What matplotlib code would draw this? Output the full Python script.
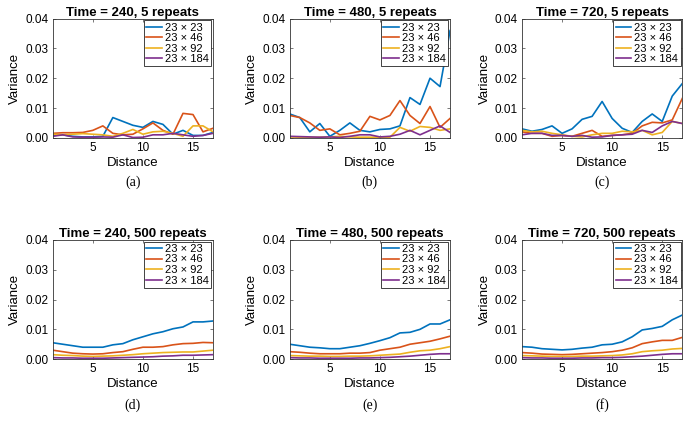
import numpy as np
import matplotlib
matplotlib.use('Agg')
import matplotlib.pyplot as plt

plt.rcParams['font.family'] = ['Liberation Sans', 'DejaVu Sans']

distance = np.arange(1, 18)
sizes = ['23 × 23', '23 × 46', '23 × 92', '23 × 184']
colors = ['#0072BD', '#D95319', '#EDB120', '#7E2F8E']

titles = ['Time = 240, 5 repeats', 'Time = 480, 5 repeats', 'Time = 720, 5 repeats',
          'Time = 240, 500 repeats', 'Time = 480, 500 repeats', 'Time = 720, 500 repeats']
letters = ['(a)', '(b)', '(c)', '(d)', '(e)', '(f)']

# (a) time 240, 5 repeats
a_23 = [0.0008, 0.0010, 0.0005, 0.0003, 0.0003, 0.0005, 0.0068, 0.0055, 0.0042, 0.0035, 0.0055, 0.0045, 0.0012, 0.0025, 0.0008, 0.0008, 0.0018]
a_46 = [0.0015, 0.0017, 0.0017, 0.0018, 0.0025, 0.0040, 0.0015, 0.0010, 0.0012, 0.0030, 0.0050, 0.0025, 0.0012, 0.0082, 0.0078, 0.0020, 0.0032]
a_92 = [0.0012, 0.0010, 0.0012, 0.0014, 0.0012, 0.0010, 0.0005, 0.0015, 0.0028, 0.0012, 0.0020, 0.0022, 0.0015, 0.0005, 0.0040, 0.0040, 0.0020]
a_184 = [0.0005, 0.0010, 0.0003, 0.0002, 0.0002, 0.0003, 0.0002, 0.0010, 0.0001, 0.0002, 0.0010, 0.0010, 0.0015, 0.0010, 0.0005, 0.0008, 0.0015]

# (b) time 480, 5 repeats
b_23 = [0.0080, 0.0068, 0.0020, 0.0048, 0.0005, 0.0025, 0.0050, 0.0025, 0.0020, 0.0028, 0.0030, 0.0040, 0.0135, 0.0112, 0.0200, 0.0172, 0.0360]
b_46 = [0.0075, 0.0068, 0.0050, 0.0025, 0.0030, 0.0010, 0.0015, 0.0022, 0.0072, 0.0060, 0.0075, 0.0125, 0.0075, 0.0048, 0.0105, 0.0035, 0.0065]
b_92 = [0.0003, 0.0002, 0.0001, 0.0002, 0.0003, 0.0005, 0.0003, 0.0002, 0.0002, 0.0002, 0.0002, 0.0035, 0.0022, 0.0038, 0.0035, 0.0025, 0.0030]
b_184 = [0.0005, 0.0004, 0.0003, 0.0002, 0.0003, 0.0001, 0.0005, 0.0010, 0.0010, 0.0003, 0.0005, 0.0012, 0.0025, 0.0010, 0.0025, 0.0040, 0.0018]

# (c) time 720, 5 repeats
c_23 = [0.0030, 0.0022, 0.0028, 0.0040, 0.0015, 0.0030, 0.0062, 0.0072, 0.0122, 0.0065, 0.0032, 0.0018, 0.0055, 0.0080, 0.0055, 0.0140, 0.0182]
c_46 = [0.0020, 0.0015, 0.0015, 0.0005, 0.0008, 0.0005, 0.0015, 0.0025, 0.0005, 0.0008, 0.0010, 0.0015, 0.0040, 0.0052, 0.0050, 0.0060, 0.0132]
c_92 = [0.0025, 0.0020, 0.0022, 0.0015, 0.0010, 0.0005, 0.0003, 0.0010, 0.0015, 0.0015, 0.0022, 0.0020, 0.0025, 0.0010, 0.0018, 0.0055, 0.0048]
c_184 = [0.0010, 0.0015, 0.0015, 0.0008, 0.0008, 0.0005, 0.0008, 0.0002, 0.0003, 0.0008, 0.0010, 0.0012, 0.0025, 0.0018, 0.0040, 0.0055, 0.0048]

# (d) time 240, 500 repeats
d_23 = [0.0055, 0.0050, 0.0045, 0.0040, 0.0040, 0.0040, 0.0048, 0.0052, 0.0065, 0.0075, 0.0085, 0.0092, 0.0102, 0.0108, 0.0125, 0.0125, 0.0128]
d_46 = [0.0030, 0.0025, 0.0020, 0.0018, 0.0017, 0.0018, 0.0022, 0.0025, 0.0033, 0.0040, 0.0040, 0.0042, 0.0048, 0.0052, 0.0053, 0.0056, 0.0055]
d_92 = [0.0015, 0.0013, 0.0012, 0.0010, 0.0009, 0.0010, 0.0011, 0.0013, 0.0015, 0.0018, 0.0020, 0.0022, 0.0023, 0.0024, 0.0024, 0.0027, 0.0030]
d_184 = [0.0005, 0.0004, 0.0004, 0.0003, 0.0003, 0.0003, 0.0004, 0.0005, 0.0006, 0.0007, 0.0008, 0.0010, 0.0011, 0.0013, 0.0013, 0.0014, 0.0015]

# (e) time 480, 500 repeats
e_23 = [0.0050, 0.0045, 0.0040, 0.0038, 0.0035, 0.0035, 0.0040, 0.0045, 0.0053, 0.0062, 0.0072, 0.0088, 0.0090, 0.0100, 0.0118, 0.0118, 0.0132]
e_46 = [0.0025, 0.0023, 0.0020, 0.0018, 0.0018, 0.0018, 0.0020, 0.0020, 0.0022, 0.0030, 0.0035, 0.0040, 0.0050, 0.0055, 0.0060, 0.0068, 0.0077]
e_92 = [0.0012, 0.0011, 0.0010, 0.0010, 0.0009, 0.0009, 0.0010, 0.0010, 0.0011, 0.0013, 0.0015, 0.0017, 0.0023, 0.0028, 0.0030, 0.0035, 0.0042]
e_184 = [0.0005, 0.0004, 0.0004, 0.0003, 0.0003, 0.0003, 0.0003, 0.0004, 0.0004, 0.0005, 0.0006, 0.0008, 0.0010, 0.0013, 0.0016, 0.0018, 0.0018]

# (f) time 720, 500 repeats
f_23 = [0.0042, 0.0040, 0.0035, 0.0033, 0.0031, 0.0033, 0.0037, 0.0040, 0.0048, 0.0050, 0.0058, 0.0075, 0.0098, 0.0103, 0.0110, 0.0132, 0.0148]
f_46 = [0.0022, 0.0020, 0.0017, 0.0016, 0.0015, 0.0016, 0.0018, 0.0020, 0.0022, 0.0025, 0.0030, 0.0038, 0.0052, 0.0058, 0.0063, 0.0063, 0.0073]
f_92 = [0.0012, 0.0011, 0.0010, 0.0009, 0.0009, 0.0009, 0.0010, 0.0010, 0.0011, 0.0012, 0.0014, 0.0018, 0.0025, 0.0028, 0.0030, 0.0034, 0.0036]
f_184 = [0.0005, 0.0004, 0.0004, 0.0003, 0.0003, 0.0003, 0.0004, 0.0004, 0.0005, 0.0005, 0.0006, 0.0008, 0.0010, 0.0013, 0.0016, 0.0018, 0.0018]

panels = [
    [a_23, a_46, a_92, a_184],
    [b_23, b_46, b_92, b_184],
    [c_23, c_46, c_92, c_184],
    [d_23, d_46, d_92, d_184],
    [e_23, e_46, e_92, e_184],
    [f_23, f_46, f_92, f_184],
]

fig = plt.figure(figsize=(6.85, 4.24), dpi=100)

lefts = [0.077, 0.423, 0.762]
bottoms = [0.675, 0.153]
w, h = 0.234, 0.281
letter_y = [0.562, 0.036]

for i, series in enumerate(panels):
    row, col = divmod(i, 3)
    ax = fig.add_axes([lefts[col], bottoms[row], w, h])
    for vals, c, lab in zip(series, colors, sizes):
        ax.plot(distance, vals, color=c, lw=1.2, label=lab)
    ax.set_xlim(1, 17)
    ax.set_ylim(0, 0.04)
    ax.set_xticks([5, 10, 15])
    ax.set_yticks([0, 0.01, 0.02, 0.03, 0.04])
    ax.set_yticklabels(['0.00', '0.01', '0.02', '0.03', '0.04'])
    ax.tick_params(direction='in', top=True, right=True, labelsize=8.5,
                   length=2.5, width=0.5, color='#444444', pad=3)
    for s in ax.spines.values():
        s.set_linewidth(0.6)
        s.set_color('#333333')
    ax.set_title(titles[i], fontsize=9.5, fontweight='bold', pad=2)
    ax.set_xlabel('Distance', fontsize=9.5, labelpad=2)
    ax.set_ylabel('Variance', fontsize=9.5, labelpad=3)
    leg = ax.legend(loc='upper right', fontsize=8, handlelength=1.4,
                    handletextpad=0.3, labelspacing=0.05, borderpad=0.2,
                    borderaxespad=0.15, fancybox=False, framealpha=1)
    leg.get_frame().set_edgecolor('#222222')
    leg.get_frame().set_linewidth(0.6)
    fig.text(lefts[col] + w / 2, letter_y[row], letters[i], ha='center',
             fontsize=10, family=['Liberation Serif', 'DejaVu Serif'])

fig.savefig('out.png', dpi=100)
